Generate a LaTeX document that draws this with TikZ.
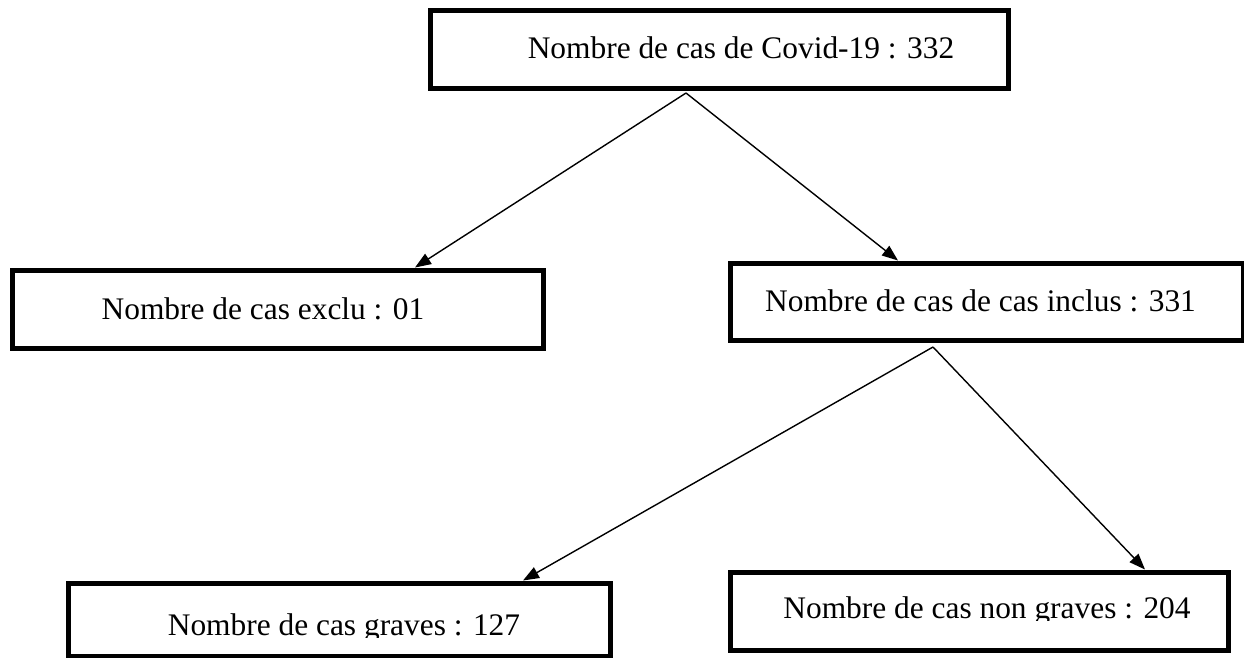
\documentclass[tikz,border=0pt]{standalone}
\usepackage{fontspec}
\setmainfont{Liberation Serif}
\usetikzlibrary{arrows.meta}
\begin{document}
\begin{tikzpicture}[x=1pt,y=-1pt,
  box/.style={draw=black, line width=5pt, rectangle, inner sep=0pt, fill=white},
  lbl/.style={inner sep=0pt, anchor=base, font=\fontsize{31.4}{36}\selectfont},
  conn/.style={draw=black, line width=1.4pt, -{Triangle[length=16pt,width=12pt]}}]
\useasboundingbox (0,0) rectangle (1244,657);
\clip (0,0) rectangle (1244,657);
\fill[white] (0,0) rectangle (1244,657);
% boxes
\node[box, minimum width=578pt, minimum height=78pt] (top) at (719,49) {};
\node[box, minimum width=531pt, minimum height=78pt] (exclu) at (277.5,309) {};
\node[box, minimum width=513pt, minimum height=77pt] (inclus) at (986.5,301.5) {};
\node[box, minimum width=542pt, minimum height=73pt] (graves) at (339,619.5) {};
\node[box, minimum width=498pt, minimum height=78pt] (nongraves) at (979,611) {};
% texts
\node[lbl] (ttop) at (741,58) {Nombre de cas de Covid-19 : 332};
\node[lbl] (texclu) at (263,319) {Nombre de cas exclu : 01};
\node[lbl] (tinclus) at (980.5,311) {Nombre de cas de cas inclus : 331};
\begin{scope}
\clip (80,595) rectangle (600,637);
\node[lbl] (tgraves) at (344,635) {Nombre de cas graves : 127};
\end{scope}
\begin{scope}
\clip (740,585) rectangle (1220,620);
\node[lbl] (tnongraves) at (987,618) {Nombre de cas non graves : 204};
\end{scope}
% connectors
\coordinate (apex1) at (686,93);
\coordinate (apex2) at (933,347);
\draw[conn] (apex1) -- ([xshift=137.5pt]exclu.north);
\draw[conn] (apex1) -- ([xshift=-88.5pt]inclus.north);
\draw[conn] (apex2) -- ([xshift=184pt]graves.north);
\draw[conn] (apex2) -- ([xshift=166pt]nongraves.north);
\end{tikzpicture}
\end{document}
